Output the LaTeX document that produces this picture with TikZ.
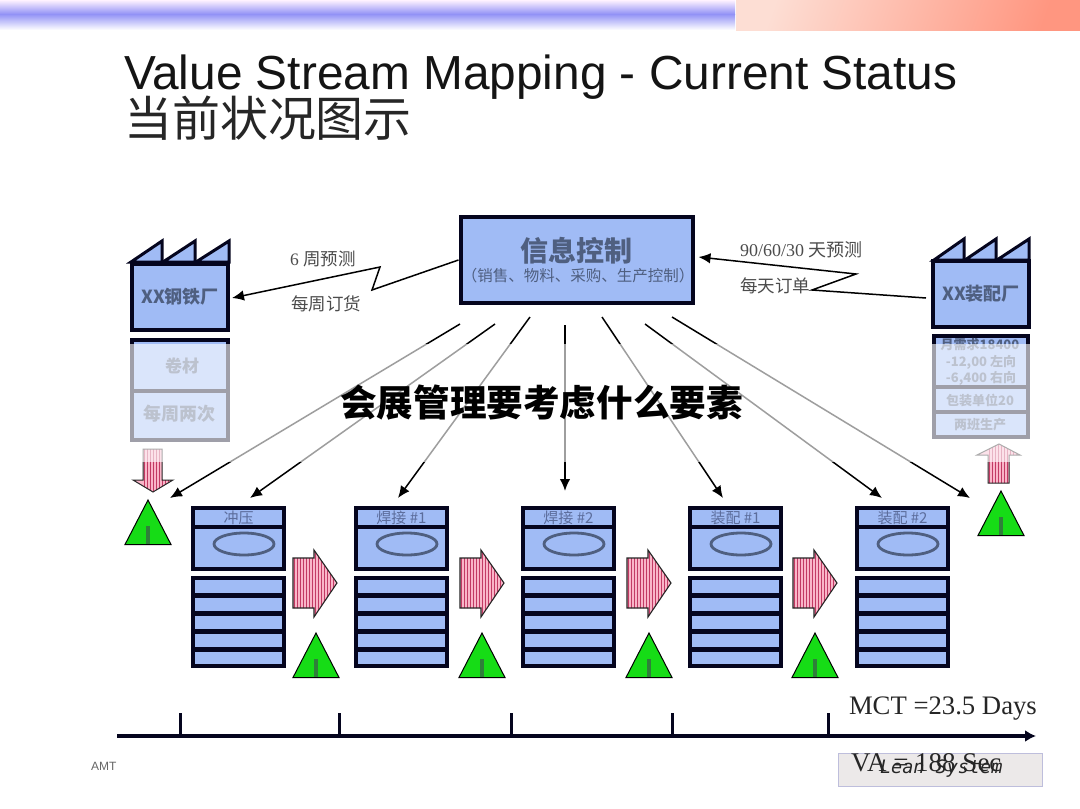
\documentclass[tikz,border=0pt]{standalone}
\usepackage{fontspec}
\setmainfont{Liberation Serif}
\setsansfont{Liberation Sans}
\newfontfamily\cjk{Noto Sans CJK SC}
\newfontfamily\leanfont{DejaVu Sans Mono}
\usetikzlibrary{arrows.meta,shapes.geometric,calc}
\definecolor{boxblue}{HTML}{A0BBF5}
\definecolor{ink}{HTML}{05051E}
\definecolor{slate}{HTML}{4F5F80}
\definecolor{proct}{HTML}{5C6D9C}
\definecolor{pushp}{HTML}{F9B5C8}
\definecolor{pushs}{HTML}{C23A64}
\definecolor{trig}{HTML}{16DC16}
\definecolor{trigbar}{HTML}{2F7F3A}
\newcommand{\fs}[1]{\fontsize{#1}{#1}\selectfont}
\tikzset{
  thick box/.style={draw=ink,fill=boxblue,line width=4pt,inner sep=0pt},
  procbox/.style={thick box,minimum width=91pt,minimum height=61pt},
  facbox/.style={thick box,minimum width=96pt,minimum height=66pt,font=\cjk\bfseries\fs{18},text=slate},
  txt/.style={inner sep=0pt,outer sep=0pt},
  lbl/.style={txt,font=\cjk\fs{17.5},text=black!70},
  flow/.style={draw=black,line width=1.5pt,-{Latex[length=12pt,width=10.5pt]}},
  oval/.style={draw=slate,line width=2.8pt,ellipse,minimum width=60pt,minimum height=22pt,inner sep=0pt},
  divider/.style={draw=ink,line width=5pt},
  tooth/.style={draw=ink,fill=boxblue,line width=3pt,line join=miter},
  axisline/.style={draw=ink,line width=4pt},
  dataline/.style={draw=ink,line width=4pt}
}
\begin{document}
\begin{tikzpicture}[x=1pt,y=-1pt]
\useasboundingbox (0,0) rectangle (1080,809);
\fill[white] (0,0) rectangle (1080,809);
% top bar
\shade[top color=white!80!magenta!25,bottom color={rgb,255:red,146;green,146;blue,246}] (0,0) rectangle (735,14);
\shade[top color={rgb,255:red,146;green,146;blue,246},bottom color=white] (0,14) rectangle (735,30);
\shade[bottom color={rgb,255:red,255;green,150;blue,128},top color={rgb,255:red,253;green,222;blue,212},shading angle=70] (736,0) rectangle (1080,30);
% title
\node[txt,anchor=west,font=\sffamily\fs{47.8},text=black!92] (title) at (124,77) {Value Stream Mapping - Current Status};
\node[txt,anchor=west,font=\cjk\fs{48},text=black!85] (subtitle) at (124,118) {当前状况图示};
% info box
\node[thick box,minimum width=232pt,minimum height=86pt] (info) at (576.5,260) {};
\node[txt,font=\cjk\bfseries\fs{28},text=slate] (infot) at (576,251) {信息控制};
\node[txt,font=\cjk\fs{15.5},text=slate] (infos) at (578,276) {（销售、物料、采购、生产控制）};
% factories
\foreach \a/\b/\c/\base in {131/162/162/262,163/195/195/262,196/229/229/262}{
  \draw[tooth] (\a,\base) -- (\b,241) -- (\c,\base) -- cycle;}
\node[facbox] (steel) at (180,297) {XX钢铁厂};
\foreach \a/\b in {934/964,965/996,997/1029}{
  \draw[tooth] (\a,260) -- (\b,239) -- (\b,260) -- cycle;}
\node[facbox] (asm) at (981,294) {XX装配厂};
% supplier data box
\node[thick box,minimum width=96pt,minimum height=100pt] (sdata) at (180,390) {};
\draw[dataline] (sdata.west |- 0,391) -- (sdata.east |- 0,391);
\node[txt,font=\cjk\bfseries\fs{17},text=slate] (s1) at (182,366) {卷材};
\node[txt,font=\cjk\bfseries\fs{18},text=slate] (s2) at (179,414) {每周两次};
% customer data box
\node[thick box,minimum width=94pt,minimum height=101pt] (cdata) at (981,386) {};
\draw[dataline] (cdata.west |- 0,387) -- (cdata.east |- 0,387);
\draw[dataline] (cdata.west |- 0,412) -- (cdata.east |- 0,412);
\node[txt,font=\cjk\bfseries\fs{13},text=slate] (c1) at (980,345) {月需求18400};
\node[txt,font=\cjk\bfseries\fs{13},text=slate] (c2) at (981,362) {-12,00 左向};
\node[txt,font=\cjk\bfseries\fs{13},text=slate] (c3) at (981,378) {-6,400 右向};
\node[txt,font=\cjk\bfseries\fs{13},text=slate] (c4) at (980,400) {包装单位20};
\node[txt,font=\cjk\bfseries\fs{13},text=slate] (c5) at (980,425) {两班生产};
% zigzag connectors
\draw[flow] (info.west |- 0,260) -- (372,290) -- (380,267) -- ([xshift=2pt]steel.east |- 0,298);
\draw[flow] ([xshift=-5pt]asm.west |- 0,298) -- (812,290) -- (856,274) -- ([xshift=4pt]info.east |- 0,257);
\node[lbl,anchor=west] (l1) at (290,259) {\rmfamily\fs{17.5}6 \cjk 周预测};
\node[lbl,anchor=west] (l2) at (291,304) {每周订货};
\node[lbl,anchor=west] (l3) at (740,250) {\rmfamily\fs{18}90/60/30 \cjk 天预测};
\node[lbl,anchor=west] (l4) at (740,286) {每天订单};
% process boxes
\foreach \i/\x/\t in {1/191/冲压,2/354/焊接 \#1,3/521/焊接 \#2,4/688/装配 \#1,5/855/装配 \#2}{
  \node[procbox] (p\i) at ({\x+47.5},538.5) {};
  \draw[dataline] (p\i.west |- 0,527) -- (p\i.east |- 0,527);
  \node[txt,font=\cjk\fs{15},text=proct] (pt\i) at ({\x+47.5},518) {\t};
  \node[oval] (po\i) at ({\x+53},544) {};
  \node[thick box,minimum width=91pt,minimum height=88pt] (pd\i) at ({\x+47.5},622) {};
  \foreach \y in {595,613,631,649}{\draw[divider] (pd\i.west |- 0,\y) -- (pd\i.east |- 0,\y);}
}
% push arrows
\foreach \x in {293,460,627,793}{
  \begin{scope}
    \path[clip] (\x,558) -- ({\x+21},558) -- ({\x+21},550) -- ({\x+44},583) -- ({\x+21},617) -- ({\x+21},608) -- (\x,608) -- cycle;
    \fill[pushp] (\x,548) rectangle ({\x+46},619);
    \foreach \k in {0,...,14}{\draw[pushs,line width=.9pt] ({\x+1+3*\k},548) -- ({\x+1+3*\k},619);}
  \end{scope}
  \draw[draw=black!85,line width=1.1pt,line join=miter] (\x,558) -- ({\x+21},558) -- ({\x+21},550) -- ({\x+44},583) -- ({\x+21},617) -- ({\x+21},608) -- (\x,608) -- cycle;
}
% vertical push arrows
\begin{scope}
  \path[clip] (143,449) -- (162,449) -- (162,480) -- (173,480) -- (153,492) -- (133,480) -- (143,480) -- cycle;
  \fill[pushp] (130,445) rectangle (176,495);
  \foreach \k in {0,...,15}{\draw[pushs,line width=.8pt] ({144+3*\k},445) -- ({144+3*\k},495);}
\end{scope}
\draw[draw=black!85,line width=1pt] (143,449) -- (162,449) -- (162,480) -- (173,480) -- (153,492) -- (133,480) -- (143,480) -- cycle;
\begin{scope}
  \path[clip] (988,483) -- (1009,483) -- (1009,455) -- (1020,455) -- (999,444) -- (977,455) -- (988,455) -- cycle;
  \fill[pushp] (975,442) rectangle (1022,485);
  \foreach \k in {0,...,15}{\draw[pushs,line width=.8pt] ({989+3*\k},442) -- ({989+3*\k},485);}
\end{scope}
\draw[draw=black!85,line width=1pt] (988,483) -- (1009,483) -- (1009,455) -- (1020,455) -- (999,444) -- (977,455) -- (988,455) -- cycle;
% inventory triangles
\foreach \n/\x/\ytop in {a/148/500,b/316/633,c/482/633,d/649/633,e/815/633,f/1001/491}{
  \draw[draw=black,fill=trig,line width=1pt,line join=miter] (\x,\ytop) -- ({\x+23},{\ytop+44.5}) -- ({\x-23},{\ytop+44.5}) -- cycle;
  \draw[draw=trigbar,line width=4.5pt] (\x,{\ytop+26}) -- (\x,{\ytop+44});
}
% information arrows
\foreach \n/\sx/\sy/\ex/\ey in {1/460/324/170/498,2/495/324/250/498,3/530/317/398/498,4/565/325/565/491,5/602/317/723/498,6/645/324/882/498,7/672/317/970/498}{
  \coordinate (from\n) at (\sx,\sy);
  \coordinate (to\n) at (\ex,\ey);
  \draw[flow] (from\n) -- (to\n);
}
% timeline
\coordinate (tl0) at (117,736);
\coordinate (tl1) at (1036,736);
\draw[axisline,-{Latex[length=11pt,width=12pt]}] (tl0) -- (tl1);
\foreach \x in {180,339,511,672,828}{\draw[draw=ink,line width=3pt] (\x,713) -- (\x,736);}
\node[txt,anchor=west,font=\fs{26.7},text=black!85] (mct) at (849,709) {MCT =23.5 Days};
% footer
\node[draw={rgb,255:red,190;green,190;blue,220},fill={rgb,255:red,236;green,233;blue,233},line width=.8pt,minimum width=204pt,minimum height=33pt,inner sep=0pt] (lean) at (940,769.5) {};
\node[txt,anchor=west,font=\fs{27},text=black!85] (va) at (851,763) {VA = 188 Sec};
\node[txt,anchor=west,font=\leanfont\itshape\fs{18.5},text=black!85] (leant) at (880,769) {Lean System};
\node[txt,anchor=west,font=\sffamily\fs{12},text=black!60] (amt) at (91,766) {AMT};
% translucent banner
\fill[white,opacity=.62] (0,344) rectangle (1080,462);
\node[txt,font=\cjk\bfseries\fs{36.6},text=black] (banner) at (541.5,403) {会展管理要考虑什么要素};
\end{tikzpicture}
\end{document}
